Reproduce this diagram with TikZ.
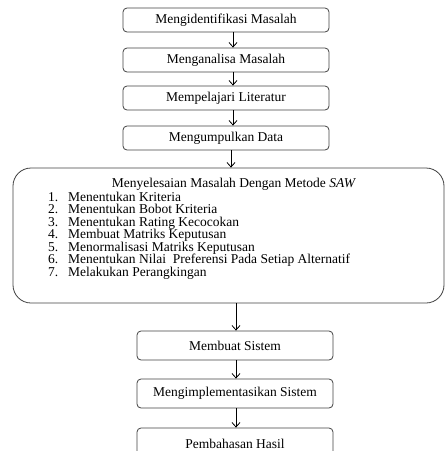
\documentclass[tikz,border=0pt]{standalone}
\usepackage{fontspec}
\setmainfont{Liberation Serif}
\usetikzlibrary{arrows.meta}
\tikzset{
  stepbox/.style={draw=black!75, line width=0.8pt, rounded corners=4pt, inner sep=0pt,
    font=\fontsize{13.5}{13}\selectfont},
  topbox/.style={stepbox, minimum width=206pt, minimum height=24pt},
  lowbox/.style={stepbox, minimum width=196pt, minimum height=29pt},
  bigbox/.style={draw=black!75, line width=0.8pt, rounded corners=18pt, inner sep=0pt,
    minimum width=431pt, minimum height=135pt},
  txt/.style={inner sep=0pt, font=\fontsize{13.5}{13}\selectfont, anchor=base west},
  arr/.style={draw=black, line width=0.8pt, -{Straight Barb[length=4.5pt,width=8pt,line width=0.8pt]}}
}
\begin{document}
\begin{tikzpicture}[x=1pt,y=-1pt]
\useasboundingbox (0,0) rectangle (446,451);
\clip (0,0) rectangle (446,451);
% top boxes
\node[topbox] (b1) at (226,20) {Mengidentifikasi Masalah};
\node[topbox] (b2) at (226,60) {Menganalisa Masalah};
\node[topbox] (b3) at (226,98) {Mempelajari Literatur};
\node[topbox] (b4) at (226,138) {Mengumpulkan Data};
% big box
\node[bigbox] (big) at (228.5,235.5) {};
\node[txt, anchor=base] (title) at (234,187) {Menyelesaian Masalah Dengan Metode \textit{SAW}};
\node[txt] (n1) at (48,201) {1.};
\node[txt] (t1) at (68,201) {Menentukan Kriteria};
\node[txt] (n2) at (48,213.5) {2.};
\node[txt] (t2) at (68,213.5) {Menentukan Bobot Kriteria};
\node[txt] (n3) at (48,226) {3.};
\node[txt] (t3) at (68,226) {Menentukan Rating Kecocokan};
\node[txt] (n4) at (48,238.5) {4.};
\node[txt] (t4) at (68,238.5) {Membuat Matriks Keputusan};
\node[txt] (n5) at (48,251) {5.};
\node[txt] (t5) at (68,251) {Menormalisasi Matriks Keputusan};
\node[txt] (n6) at (48,263.5) {6.};
\node[txt] (t6) at (68,263.5) {Menentukan Nilai\ \ Preferensi Pada Setiap Alternatif};
\node[txt] (n7) at (48,276) {7.};
\node[txt] (t7) at (68,276) {Melakukan Perangkingan};
% lower boxes
\node[lowbox] (b5) at (235,345.5) {Membuat Sistem};
\node[lowbox] (b6) at (235,393.5) {Mengimplementasikan Sistem};
\node[lowbox, minimum height=40pt] (b7) at (235,448) {};
\node[txt, anchor=base] (t8) at (235,448) {Pembahasan Hasil};
% arrows
\coordinate (ax) at (233,0);
\coordinate (bx) at (231,0);
\coordinate (cx) at (236,0);
\draw[arr] (b1.south -| ax) -- (b2.north -| ax);
\draw[arr] (b2.south -| ax) -- (b3.north -| ax);
\draw[arr] (b3.south -| ax) -- (b4.north -| ax);
\draw[arr] (b4.south -| bx) -- (big.north -| bx);
\draw[arr] (big.south -| cx) -- (b5.north -| cx);
\draw[arr] (b5.south -| cx) -- (b6.north -| cx);
\draw[arr] (b6.south -| cx) -- (b7.north -| cx);
\end{tikzpicture}
\end{document}
